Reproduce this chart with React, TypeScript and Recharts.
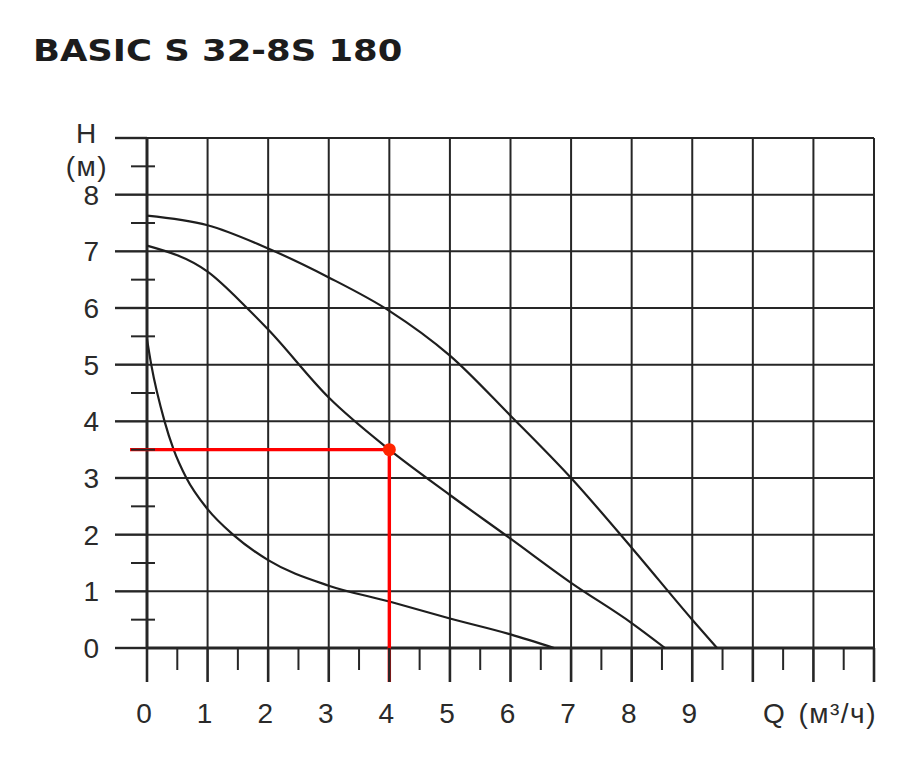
import { LineChart, Line, XAxis, YAxis, ReferenceLine, ReferenceDot } from 'recharts';

// Q (m3/h) -> H (m)
const curveHigh = [
  { q: 0, h: 7.63 },
  { q: 1, h: 7.46 },
  { q: 2, h: 7.05 },
  { q: 3, h: 6.54 },
  { q: 4, h: 5.95 },
  { q: 5, h: 5.16 },
  { q: 6, h: 4.1 },
  { q: 7, h: 3.0 },
  { q: 8, h: 1.77 },
  { q: 9, h: 0.5 },
  { q: 9.41, h: 0 },
];

const curveMid = [
  { q: 0, h: 7.1 },
  { q: 1, h: 6.64 },
  { q: 1.65, h: 6.0 },
  { q: 2, h: 5.62 },
  { q: 3, h: 4.42 },
  { q: 4, h: 3.5 },
  { q: 5, h: 2.7 },
  { q: 6, h: 1.93 },
  { q: 7, h: 1.15 },
  { q: 8, h: 0.44 },
  { q: 8.55, h: 0 },
];

const curveLow = [
  { q: 0, h: 5.45 },
  { q: 0.07, h: 5.0 },
  { q: 0.29, h: 4.0 },
  { q: 0.44, h: 3.5 },
  { q: 0.65, h: 3.0 },
  { q: 1, h: 2.45 },
  { q: 1.42, h: 2.0 },
  { q: 2, h: 1.55 },
  { q: 3, h: 1.1 },
  { q: 4, h: 0.82 },
  { q: 5, h: 0.52 },
  { q: 6, h: 0.24 },
  { q: 6.72, h: 0 },
];

// operating point
const dutyQ = 4;
const dutyH = 3.5;

const xTicks = [0, 0.5, 1, 1.5, 2, 2.5, 3, 3.5, 4, 4.5, 5, 5.5, 6, 6.5, 7, 7.5, 8, 8.5, 9, 9.5, 10, 10.5, 11, 11.5, 12];
const yTicks = [0, 0.5, 1, 1.5, 2, 2.5, 3, 3.5, 4, 4.5, 5, 5.5, 6, 6.5, 7, 7.5, 8, 8.5, 9];
const xLabels = [0, 1, 2, 3, 4, 5, 6, 7, 8, 9];
const yLabels = [0, 1, 2, 3, 4, 5, 6, 7, 8];
const gridX = [0, 1, 2, 3, 4, 5, 6, 7, 8, 9, 10, 11, 12];
const gridY = [0, 1, 2, 3, 4, 5, 6, 7, 8, 9];

const INK = '#262626';
const LABEL_FONT = '"Liberation Sans", Arial, sans-serif';

function XTick(props: any) {
  const { x, y, payload } = props;
  const v = payload.value;
  const major = Number.isInteger(v);
  return (
    <g>
      <line x1={x} x2={x} y1={y} y2={y + (major ? 34 : 22)} stroke={INK} strokeWidth={major ? 2.6 : 2} />
      {xLabels.includes(v) && (
        <text x={x - 3} y={y + 75} textAnchor="middle" fontSize={28} fontFamily={LABEL_FONT} fill="#2a2a2a">
          {v}
        </text>
      )}
    </g>
  );
}

function YTick(props: any) {
  const { x, y, payload } = props;
  const v = payload.value;
  const major = Number.isInteger(v);
  return (
    <g>
      {major ? (
        <line x1={x - 32} x2={x} y1={y} y2={y} stroke={INK} strokeWidth={2.4} />
      ) : (
        <line x1={x - 16} x2={x + 8} y1={y} y2={y} stroke={INK} strokeWidth={2} />
      )}
      {yLabels.includes(v) && (
        <text x={99} y={y + 10} textAnchor="end" fontSize={28} fontFamily={LABEL_FONT} fill="#2a2a2a">
          {v}
        </text>
      )}
    </g>
  );
}

export default function App() {
  return (
    <div style={{ position: 'absolute', left: 0, top: 0, width: 918, height: 773, background: '#fff' }}>
      <LineChart width={918} height={773} margin={{ top: 138, right: 44, bottom: 0, left: 0 }}>
        <XAxis
          dataKey="q"
          type="number"
          domain={[0, 12]}
          ticks={xTicks}
          interval={0}
          height={125}
          tickSize={0}
          tickMargin={0}
          axisLine={false}
          tickLine={false}
          tick={<XTick />}
        />
        <YAxis
          type="number"
          domain={[0, 9]}
          ticks={yTicks}
          interval={0}
          width={147}
          tickSize={0}
          tickMargin={0}
          axisLine={false}
          tickLine={false}
          tick={<YTick />}
        />
        {gridX.map((v) => (
          <ReferenceLine key={'gx' + v} x={v} stroke={INK} strokeWidth={v === 0 ? 3 : 2} />
        ))}
        {gridY.map((v) => (
          <ReferenceLine key={'gy' + v} y={v} stroke={INK} strokeWidth={v === 0 ? 3 : 2} />
        ))}
        <Line data={curveHigh} dataKey="h" type="monotone" stroke="#1e1e1e" strokeWidth={2.2} dot={false} isAnimationActive={false} />
        <Line data={curveMid} dataKey="h" type="monotone" stroke="#1e1e1e" strokeWidth={2.2} dot={false} isAnimationActive={false} />
        <Line data={curveLow} dataKey="h" type="monotone" stroke="#1e1e1e" strokeWidth={2.2} dot={false} isAnimationActive={false} />
        <ReferenceLine
          segment={[{ x: -0.28, y: dutyH }, { x: dutyQ, y: dutyH }]}
          ifOverflow="visible"
          stroke="#ff0000"
          strokeWidth={3.4}
        />
        <ReferenceLine
          segment={[{ x: dutyQ, y: dutyH }, { x: dutyQ, y: -0.6 }]}
          ifOverflow="visible"
          stroke="#ff0000"
          strokeWidth={3.4}
        />
        <ReferenceDot x={dutyQ} y={dutyH} r={6.5} fill="#ff2400" stroke="none" ifOverflow="visible" />
      </LineChart>
      <svg width={918} height={773} style={{ position: 'absolute', left: 0, top: 0, pointerEvents: 'none' }}>
        <text
          x={0}
          y={0}
          transform="translate(33 61) scale(1.18 1)"
          fontSize={30}
          fontWeight="bold"
          fontFamily='"DejaVu Sans", Verdana, sans-serif'
          fill="#1c1c1c"
        >
          BASIC S 32-8S 180
        </text>
        <text x={86} y={143} textAnchor="middle" fontSize={28} fontFamily={LABEL_FONT} fill="#2a2a2a">H</text>
        <text x={87} y={176} textAnchor="middle" fontSize={28} fontFamily={LABEL_FONT} fill="#2a2a2a" letterSpacing={1.5}>(м)</text>
        <text x={763} y={723} fontSize={28} fontFamily={LABEL_FONT} fill="#2a2a2a">Q</text>
        <text x={877} y={723} textAnchor="end" fontSize={28} fontFamily={LABEL_FONT} fill="#2a2a2a" letterSpacing={1.5}>(м³/ч)</text>
      </svg>
    </div>
  );
}
